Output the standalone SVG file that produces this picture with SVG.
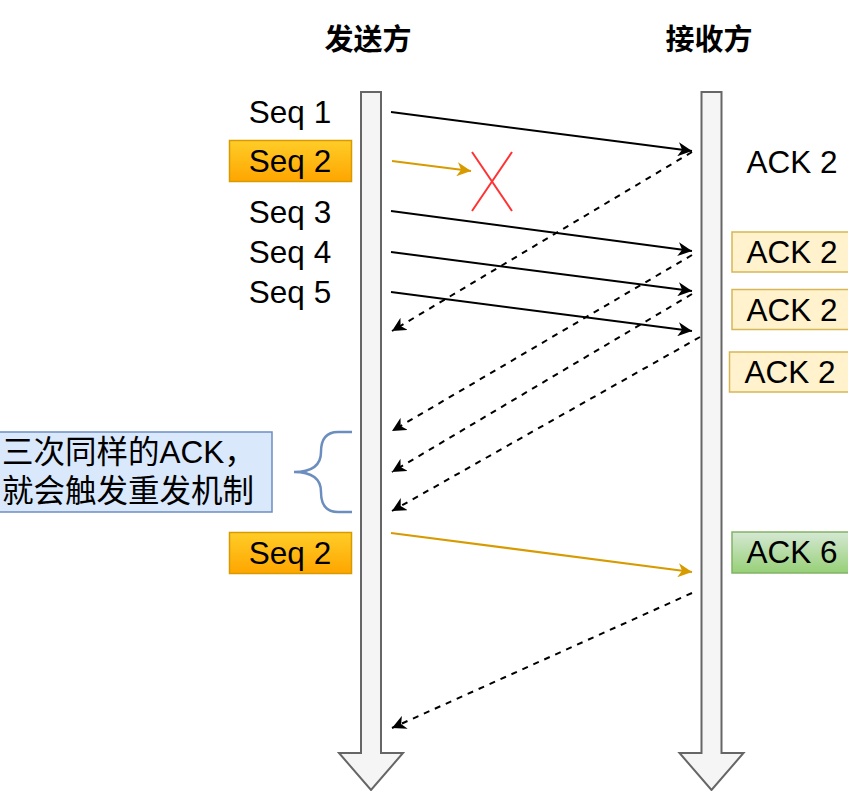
<svg xmlns="http://www.w3.org/2000/svg" width="848" height="791" viewBox="0 0 848 791">
<defs>
<linearGradient id="gOrange" x1="0" y1="0" x2="0" y2="1"><stop offset="0" stop-color="#ffcd28"/><stop offset="1" stop-color="#ffa500"/></linearGradient>
<linearGradient id="gGreen" x1="0" y1="0" x2="0" y2="1"><stop offset="0" stop-color="#d5e8d4"/><stop offset="1" stop-color="#97d077"/></linearGradient>
<marker id="mBlack" markerWidth="16" markerHeight="14" refX="14" refY="7" orient="auto" markerUnits="userSpaceOnUse"><path d="M0,0 L14,7 L0,14 L4,7 Z" fill="#000"/></marker>
<marker id="mOrange" markerWidth="16" markerHeight="14" refX="14" refY="7" orient="auto" markerUnits="userSpaceOnUse"><path d="M0,0 L14,7 L0,14 L4,7 Z" fill="#d79b00"/></marker>
<style>
.t{font-family:"Liberation Sans",Arial,"Noto Sans CJK SC",sans-serif;font-size:31.5px;fill:#000;text-anchor:middle;dominant-baseline:central}
.h{font-family:"Noto Sans CJK SC","Liberation Sans",sans-serif;font-size:29px;font-weight:bold;fill:#000;text-anchor:middle;dominant-baseline:central}
.cn{font-family:"Liberation Sans","Noto Sans CJK SC",sans-serif;font-size:31.5px;fill:#000}
.bar{fill:#f5f5f5;stroke:#666666;stroke-width:2}
.seqbox{fill:url(#gOrange);stroke:#d79b00;stroke-width:1.5}
.ackbox{fill:#fff2cc;stroke:#d6b656;stroke-width:1.5}
.ack6{fill:url(#gGreen);stroke:#82b366;stroke-width:1.5}
.snd{stroke:#000;stroke-width:2;fill:none;marker-end:url(#mBlack)}
.ack{stroke:#000;stroke-width:2;fill:none;stroke-dasharray:6,6;marker-end:url(#mBlack)}
.org{stroke:#d79b00;stroke-width:2.2;fill:none;marker-end:url(#mOrange)}
</style>
</defs>
<rect width="848" height="791" fill="#fff"/>
<g id="sender">
<path class="bar" d="M361,92 L381,92 L381,753 L403,753 L371,790 L339,753 L361,753 Z"/>
<text class="h" x="368" y="37">发送方</text>
</g>
<g id="receiver">
<path class="bar" d="M701.5,92 L721.5,92 L721.5,753 L743.5,753 L711.5,790 L679.5,753 L701.5,753 Z"/>
<text class="h" x="709" y="37">接收方</text>
</g>
<g id="seq1"><text class="t" x="290" y="112">Seq 1</text></g>
<g id="seq2"><rect class="seqbox" x="229.5" y="140.5" width="122" height="41"/><text class="t" x="290" y="161">Seq 2</text></g>
<g id="seq3"><text class="t" x="290" y="212">Seq 3</text></g>
<g id="seq4"><text class="t" x="290" y="252">Seq 4</text></g>
<g id="seq5"><text class="t" x="290" y="292">Seq 5</text></g>
<g id="seq2b"><rect class="seqbox" x="229.5" y="532.5" width="122" height="41"/><text class="t" x="290" y="553">Seq 2</text></g>
<g id="ack2a"><text class="t" x="792" y="162">ACK 2</text></g>
<g id="ack2b"><rect class="ackbox" x="732" y="232" width="120" height="40"/><text class="t" x="792" y="252">ACK 2</text></g>
<g id="ack2c"><rect class="ackbox" x="732" y="289.5" width="120" height="40"/><text class="t" x="792" y="310">ACK 2</text></g>
<g id="ack2d"><rect class="ackbox" x="729.5" y="352" width="120" height="40"/><text class="t" x="790" y="372">ACK 2</text></g>
<g id="ack6"><rect class="ack6" x="732" y="532" width="120" height="41"/><text class="t" x="792" y="552">ACK 6</text></g>
<g id="note">
<rect x="-1" y="432" width="273" height="80" fill="#dae8fc" stroke="#6c8ebf" stroke-width="1.5"/>
<text class="cn" x="2" y="463">三次同样的ACK，</text>
<text class="cn" x="2" y="502">就会触发重发机制</text>
</g>
<g id="brace"><path d="M352,432 L338,432 Q321,432 321,452 Q321,472 294,472 Q321,472 321,492 Q321,512 338,512 L352,512" fill="none" stroke="#6c8ebf" stroke-width="2.5"/></g>
<g id="lost"><path d="M472,152 L512,211 M512,152 L472,211" stroke="#ff3333" stroke-width="2" fill="none"/></g>
<g id="connectors">
<line class="snd" x1="391" y1="112" x2="692" y2="151"/>
<line class="org" x1="392" y1="161" x2="471" y2="171"/>
<line class="snd" x1="391" y1="211" x2="692" y2="251"/>
<line class="snd" x1="391" y1="252" x2="692" y2="291"/>
<line class="snd" x1="391" y1="292" x2="692" y2="331"/>
<line class="ack" x1="692" y1="152" x2="392" y2="331"/>
<line class="ack" x1="692" y1="255" x2="392" y2="431"/>
<line class="ack" x1="692" y1="294" x2="392" y2="472"/>
<line class="ack" x1="700" y1="337" x2="392" y2="511"/>
<line class="org" x1="391" y1="533" x2="692" y2="572"/>
<line class="ack" x1="692" y1="593" x2="392" y2="728"/>
</g>
</svg>
